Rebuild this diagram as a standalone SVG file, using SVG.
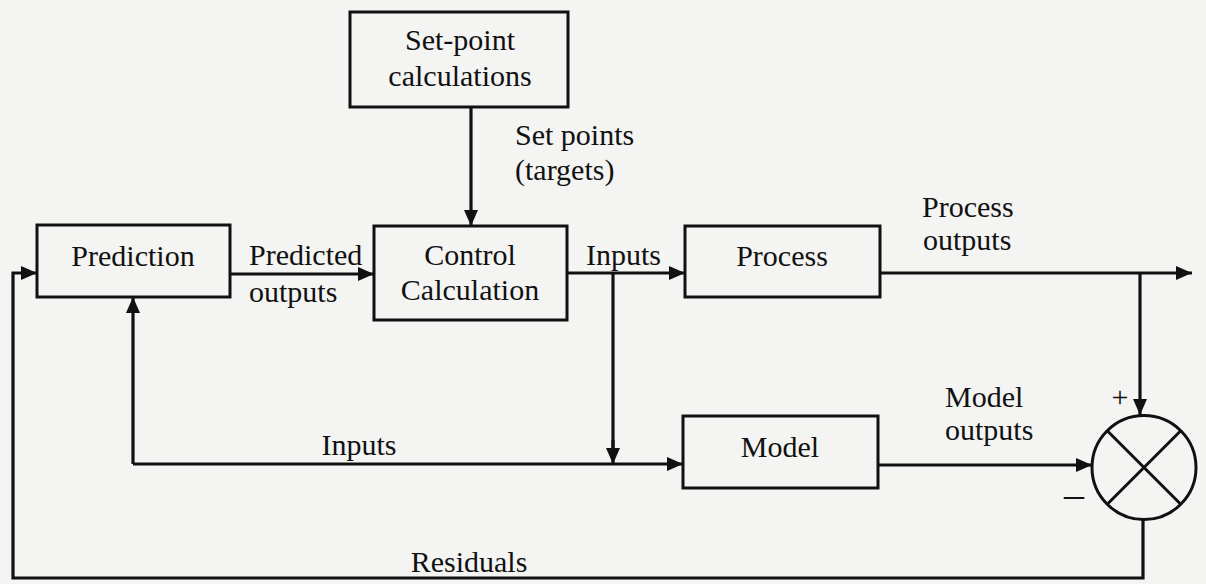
<svg xmlns="http://www.w3.org/2000/svg" width="1206" height="584" viewBox="0 0 1206 584" font-family="Liberation Serif, serif" font-size="30">
  <style>
    .box { fill: none; stroke: #111; stroke-width: 3; }
    .wire { fill: none; stroke: #111; stroke-width: 3.2; }
    .arr { marker-end: url(#head); }
    .t { font-family: "Liberation Serif", serif; font-size: 30px; fill: #111; }
    .c { text-anchor: middle; }
  </style>
  <defs>
    <marker id="head" viewBox="0 0 16 14" refX="16" refY="7" markerWidth="16" markerHeight="14" markerUnits="userSpaceOnUse" orient="auto">
      <path d="M0,0 L16,7 L0,14 Z" fill="#111"/>
    </marker>
  </defs>

  <rect width="1206" height="584" fill="#f4f4f3"/>

  <!-- blocks -->
  <g id="setpoint">
    <rect class="box" x="350" y="12" width="218" height="95"/>
    <text class="t c" x="460" y="50">Set-point</text>
    <text class="t c" x="460" y="86">calculations</text>
  </g>
  <g id="prediction">
    <rect class="box" x="37" y="225" width="193" height="72"/>
    <text class="t c" x="133" y="266">Prediction</text>
  </g>
  <g id="control">
    <rect class="box" x="374" y="226" width="193" height="94"/>
    <text class="t c" x="470" y="265">Control</text>
    <text class="t c" x="470" y="300">Calculation</text>
  </g>
  <g id="process">
    <rect class="box" x="685" y="226" width="195" height="71"/>
    <text class="t c" x="782" y="266">Process</text>
  </g>
  <g id="model">
    <rect class="box" x="683" y="416" width="195" height="72"/>
    <text class="t c" x="780" y="457">Model</text>
  </g>
  <g id="comparator">
    <circle class="box" cx="1144" cy="467.5" r="52"/>
    <path class="box" d="M1107,430.5 L1181,504.5 M1181,430.5 L1107,504.5"/>
    <text class="t c" x="1120" y="407">+</text>
    <text class="t c" x="1074" y="507" font-size="40" style="font-size:40px">–</text>
  </g>

  <!-- connectors -->
  <g id="connectors">
    <path class="wire arr" d="M471,107 V226"/>
    <path class="wire arr" d="M230,274 H374"/>
    <path class="wire arr" d="M567,273 H685"/>
    <path class="wire" d="M613,273 V450"/>
    <path class="wire arr" d="M613,440 V464"/>
    <path class="wire arr" d="M133,464 H683"/>
    <path class="wire arr" d="M133,464 V297"/>
    <path class="wire arr" d="M880,273 H1192"/>
    <path class="wire arr" d="M1140,273 V415"/>
    <path class="wire arr" d="M878,465 H1092"/>
    <path class="wire arr" d="M1143,519 V578 H13 V273 H37"/>
  </g>

  <!-- signal labels -->
  <g id="labels">
    <text class="t" x="515" y="145">Set points</text>
    <text class="t" x="515" y="180">(targets)</text>
    <text class="t" x="249" y="265">Predicted</text>
    <text class="t" x="249" y="302">outputs</text>
    <text class="t" x="586" y="265">Inputs</text>
    <text class="t" x="922" y="217">Process</text>
    <text class="t" x="923" y="250">outputs</text>
    <text class="t" x="945" y="407">Model</text>
    <text class="t" x="945" y="440">outputs</text>
    <text class="t c" x="359" y="455">Inputs</text>
    <text class="t c" x="469" y="572">Residuals</text>
  </g>
</svg>
